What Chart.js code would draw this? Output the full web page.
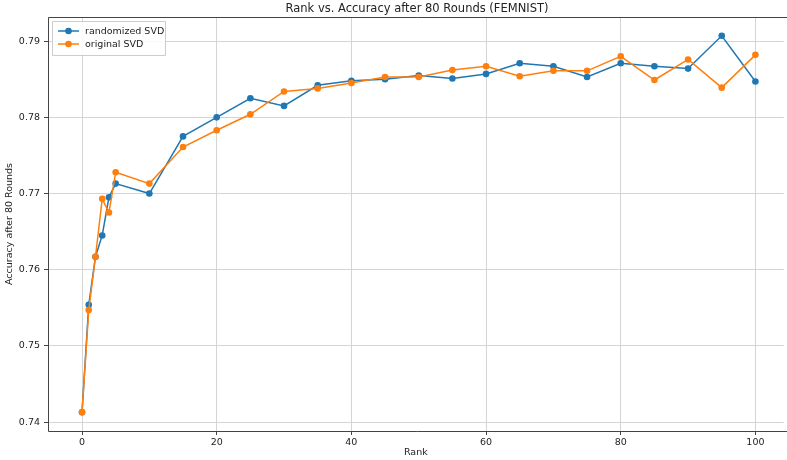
<!DOCTYPE html>
<html>
<head>
<meta charset="utf-8">
<script src="https://cdn.jsdelivr.net/npm/chart.js@4.4.1/dist/chart.umd.min.js"></script>
<style>
  html, body { margin: 0; padding: 0; background: #fff; }
  #wrap { width: 787px; height: 460px; }
</style>
</head>
<body>
<div id="wrap"><canvas id="c" width="787" height="460"></canvas></div>
<script>
const ranks = [0, 1, 2, 3, 4, 5, 10, 15, 20, 25, 30, 35, 40, 45, 50, 55, 60, 65, 70, 75, 80, 85, 90, 95, 100];
const randomizedSVD = [0.7413, 0.7554, 0.7617, 0.7645, 0.7695, 0.7713, 0.7700, 0.7775, 0.7800, 0.7825, 0.7815, 0.7842, 0.7848, 0.7850, 0.7855, 0.7851, 0.7857, 0.7871, 0.7867, 0.7853, 0.7871, 0.7867, 0.7864, 0.7907, 0.7847];
const originalSVD = [0.7413, 0.7547, 0.7617, 0.7693, 0.7675, 0.7728, 0.7713, 0.7761, 0.7783, 0.7804, 0.7834, 0.7838, 0.7845, 0.7853, 0.7853, 0.7862, 0.7867, 0.7854, 0.7861, 0.7861, 0.7880, 0.7849, 0.7876, 0.7839, 0.7882];
const xTicks = [0, 20, 40, 60, 80, 100];
const yTicks = [0.74, 0.75, 0.76, 0.77, 0.78, 0.79];
const seriesNames = ['randomized SVD', 'original SVD'];
const titleText = 'Rank vs. Accuracy after 80 Rounds (FEMNIST)';
const xLabel = 'Rank';
const yLabel = 'Accuracy after 80 Rounds';

const BLUE = '#1f77b4', ORANGE = '#ff7f0e';
const FONT = 'DejaVu Sans';

const toPts = arr => arr.map((v, i) => ({ x: ranks[i], y: v }));

const allY = randomizedSVD.concat(originalSVD);
const yMinD = Math.min(...allY), yMaxD = Math.max(...allY);
const yPad = (yMaxD - yMinD) * 0.05;
const xPad = (ranks[ranks.length - 1] - ranks[0]) * 0.05;

const frameAndLegend = {
  id: 'frameAndLegend',
  afterDraw(chart) {
    const { ctx, chartArea: a } = chart;
    ctx.save();
    ctx.strokeStyle = '#444';
    ctx.lineWidth = 1;
    const L = Math.round(a.left) + 0.5, T = Math.round(a.top) + 0.5, B = Math.round(a.bottom) + 0.5;
    ctx.beginPath();
    ctx.moveTo(chart.width, T); ctx.lineTo(L, T); ctx.lineTo(L, B); ctx.lineTo(chart.width, B);
    ctx.stroke();
    // title centred over the plot area
    ctx.fillStyle = '#222';
    ctx.font = '11.5px "' + FONT + '"';
    ctx.textAlign = 'center';
    ctx.textBaseline = 'middle';
    ctx.fillText(titleText, (a.left + 786) / 2, 9);
    ctx.textAlign = 'left';
    // legend
    const lx = a.left + 4, ly = a.top + 4, lw = 113, lh = 34;
    ctx.fillStyle = 'rgba(255,255,255,0.85)';
    ctx.strokeStyle = '#cccccc';
    ctx.beginPath();
    ctx.rect(lx + 0.5, ly + 0.5, lw, lh);
    ctx.fill();
    ctx.stroke();
    ctx.font = '9.5px "' + FONT + '"';
    chart.data.datasets.forEach((ds, i) => {
      const yy = ly + 10 + i * 13;
      ctx.strokeStyle = ds.borderColor;
      ctx.lineWidth = 1.5;
      ctx.beginPath();
      ctx.moveTo(lx + 6, yy);
      ctx.lineTo(lx + 27, yy);
      ctx.stroke();
      ctx.fillStyle = ds.borderColor;
      ctx.beginPath();
      ctx.arc(lx + 16.5, yy, 3.3, 0, Math.PI * 2);
      ctx.fill();
      ctx.fillStyle = '#222';
      ctx.fillText(ds.label, lx + 33, yy + 0.5);
    });
    ctx.restore();
  }
};

new Chart(document.getElementById('c'), {
  type: 'line',
  data: {
    datasets: [
      { label: seriesNames[0], data: toPts(randomizedSVD), borderColor: BLUE, backgroundColor: BLUE,
        borderWidth: 1.5, pointRadius: 3.3, pointHoverRadius: 3.3, pointBorderWidth: 0, tension: 0, order: 1 },
      { label: seriesNames[1], data: toPts(originalSVD), borderColor: ORANGE, backgroundColor: ORANGE,
        borderWidth: 1.5, pointRadius: 3.3, pointHoverRadius: 3.3, pointBorderWidth: 0, tension: 0, order: 0 }
    ]
  },
  options: {
    responsive: false,
    animation: false,
    devicePixelRatio: 1,
    layout: { padding: { left: 0, right: 0, top: 17, bottom: 0 } },
    plugins: {
      legend: { display: false },
      tooltip: { enabled: false },
      title: { display: false }
    },
    scales: {
      x: {
        type: 'linear',
        min: -5.05, max: 104.2,
        afterBuildTicks: s => { s.ticks = xTicks.map(v => ({ value: v })); },
        afterFit: s => { s.height = 29; s.paddingRight = 0; },
        grid: { color: '#d4d4d4', lineWidth: 1, drawTicks: true, tickLength: 4, tickColor: '#444' },
        border: { display: false },
        ticks: { color: '#222', font: { family: FONT, size: 9.5 }, padding: 2, maxRotation: 0,
                 callback: v => String(v) },
        title: { display: true, text: xLabel, color: '#222', font: { family: FONT, size: 9.5 }, padding: { top: 0, bottom: 2 } }
      },
      y: {
        type: 'linear',
        min: yMinD - yPad, max: yMaxD + yPad,
        afterBuildTicks: s => { s.ticks = yTicks.map(v => ({ value: v })); },
        afterFit: s => { s.width = 48; },
        grid: { color: '#d4d4d4', lineWidth: 1, drawTicks: true, tickLength: 4, tickColor: '#444' },
        border: { display: false },
        ticks: { color: '#222', font: { family: FONT, size: 9.5 }, padding: 4,
                 callback: v => v.toFixed(2) },
        title: { display: true, text: yLabel, color: '#222', font: { family: FONT, size: 9.5 }, padding: { top: 4, bottom: 0 } }
      }
    }
  },
  plugins: [frameAndLegend]
});
</script>
</body>
</html>
